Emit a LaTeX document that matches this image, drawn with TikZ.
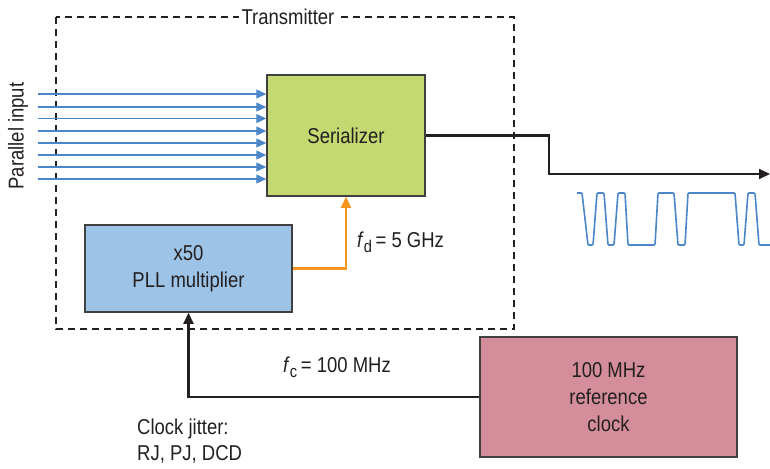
\documentclass[tikz,border=0pt]{standalone}
\usepackage{fontspec}
\setmainfont{Liberation Sans}[FakeStretch=0.86]
\usetikzlibrary{arrows.meta}
\definecolor{sergreen}{HTML}{C5D972}
\definecolor{pllblue}{HTML}{9DC3E6}
\definecolor{refpink}{HTML}{D48E9B}
\definecolor{lineblue}{HTML}{4A86C8}
\definecolor{orangeline}{HTML}{F7961E}
\definecolor{boxedge}{HTML}{404040}
\definecolor{txt}{HTML}{231F20}
\tikzset{
  blockbox/.style={draw=boxedge, line width=1.5pt, rectangle, inner sep=0pt, align=center, text=txt, font=\fontsize{21.5}{27}\selectfont},
  inarrow/.style={draw=lineblue, line width=1.3pt, -{Triangle[length=10pt,width=9pt]}},
  blackarrow/.style={draw=txt, line width=2.1pt, -{Triangle[length=11pt,width=10pt]}},
  orangearrow/.style={draw=orangeline, line width=2.1pt, -{Triangle[length=11pt,width=10pt]}},
  lbl/.style={inner sep=0pt, text=txt, font=\fontsize{21.5}{27}\selectfont},
}
\begin{document}
\begin{tikzpicture}[x=1pt,y=-1pt]
\useasboundingbox (0,0) rectangle (770,468);
% transmitter frame
\draw[txt, line width=1.4pt, dash pattern=on 7pt off 5pt] (56,17) rectangle (514,329);
\node[lbl, fill=white, inner xsep=3pt, inner ysep=2pt] (tx) at (288,17) {Transmitter};
% blocks
\node[blockbox, fill=sergreen, minimum width=158pt, minimum height=121pt] (ser) at (346,135.5) {Serializer};
\node[blockbox, fill=pllblue, minimum width=207pt, minimum height=87pt] (pll) at (188.5,268.5) {x50\\PLL multiplier};
\node[blockbox, fill=refpink, minimum width=257pt, minimum height=120pt] (ref) at (608.5,397) {100 MHz\\reference\\clock};
% parallel inputs
\foreach \i/\y in {1/94,2/107,3/118.5,4/131,5/143,6/155,7/167,8/179}{
  \coordinate (in\i) at (38,\y);
  \draw[inarrow] (in\i) -- (ser.west |- in\i);
}
\node[lbl, rotate=90] (pin) at (18,136) {Parallel input};
% output
\coordinate (out) at (770,174);
\draw[blackarrow] (ser.east) -- (549,135.5) |- (out);
% waveform
\draw[lineblue, line width=1.6pt, rounded corners=1pt]
 (577,193) -- (582,193) -- (588,245) -- (593,245) -- (597,193) -- (604,193) -- (608,245) -- (614,245) -- (618,193) -- (625,193) -- (628,245) -- (655,245) -- (658,193) -- (674,193) -- (678,245) -- (685,245) -- (688,193) -- (735,193) -- (739,245) -- (744,245) -- (748,193) -- (755,193) -- (759,245) -- (770,245);
% clocks
\draw[orangearrow] (pll.east) -| (ser.south);
\draw[blackarrow] (ref.west) -| (pll.south);
\node[lbl, anchor=west] (fd) at (357,242) {\textit{f}\raisebox{-5pt}{\fontsize{17}{17}\selectfont d}\,= 5 GHz};
\node[lbl] (fc) at (337,367) {\textit{f}\raisebox{-5pt}{\fontsize{17}{17}\selectfont c}\,= 100 MHz};
\node[lbl, anchor=west, align=left, font=\fontsize{21.5}{26}\selectfont] (cj) at (137,441) {Clock jitter:\\RJ, PJ, DCD};
\end{tikzpicture}
\end{document}
